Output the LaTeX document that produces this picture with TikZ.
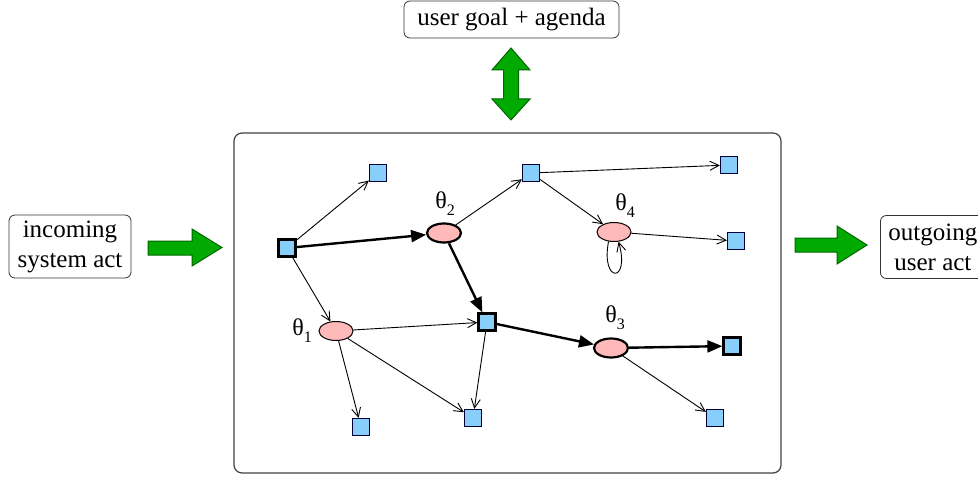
\documentclass[tikz,border=0pt]{standalone}
\usepackage{fontspec}
\setmainfont{Liberation Serif}
\newfontfamily\timesfam{Liberation Serif}
\usetikzlibrary{arrows.meta,shapes.geometric}
\definecolor{sqblue}{RGB}{135,206,250}
\definecolor{elpink}{RGB}{255,185,185}
\definecolor{fatgreen}{RGB}{0,170,0}
\newcommand{\thsub}[1]{θ\raisebox{-3.5pt}{\fontsize{8}{8}\selectfont #1}}

\begin{document}
\begin{tikzpicture}[x=0.5pt, y=-0.5pt,
	sq/.style={rectangle, draw=black!80!blue, fill=sqblue, line width=0.6pt, minimum size=8.5pt, inner sep=0pt},
	sqbold/.style={sq, draw=black, line width=1.1pt},
	el/.style={ellipse, draw=black, fill=elpink, line width=0.5pt, minimum width=17pt, minimum height=9.5pt, inner sep=0pt},
	elbold/.style={el, line width=1.1pt},
	thinarr/.style={-{Straight Barb[length=4.5pt,width=4.5pt]}, line width=0.45pt},
	boldarr/.style={-{Triangle[length=7.5pt,width=6pt]}, line width=1.2pt},
	txtbox/.style={draw=black!80, rounded corners=3pt, align=center, inner sep=0pt, font=\timesfam\fontsize{12.5}{15}\selectfont},
	fatarrow/.style={fill=fatgreen, draw=black!60!green, line width=0.5pt},
	thlabel/.style={inner sep=0pt, anchor=base west, font=\timesfam\fontsize{12}{12}\selectfont}]
	\useasboundingbox (0,0) rectangle (978,476);
	% outer boxes
	\node[txtbox, minimum width=107.5pt, minimum height=18.5pt] (goal) at (511.5,19.5) {user goal + agenda};
	\node[txtbox, minimum width=61pt, minimum height=31.5pt] (inact) at (70,246.5) {incoming\\system act};
	\node[txtbox, minimum width=52.5pt, minimum height=31.5pt, anchor=west] (outact) at (880,247) {outgoing\\user act};
	\draw[draw=black!75, line width=0.6pt, rounded corners=4pt] (234,133) rectangle (781,473);
	% fat arrows
	\draw[fatarrow] (148,241) -- (192,241) -- (192,229) -- (222,247.5) -- (192,266) -- (192,255) -- (148,255) -- cycle;
	\draw[fatarrow] (795,238) -- (837,238) -- (837,226) -- (867,245) -- (837,264) -- (837,252) -- (795,252) -- cycle;
	\draw[fatarrow] (503.5,70) -- (492,70) -- (511,48) -- (530,70) -- (518.5,70) -- (518.5,99) -- (530,99) -- (511,120) -- (492,99) -- (503.5,99) -- cycle;
	% graph
	\node[sqbold] (s0) at (287,248) {};
	\node[sq] (sa) at (378,173) {};
	\node[elbold] (t2) at (444,233) {};
	\node[sq] (sb) at (531,173) {};
	\node[sq] (sc) at (729,165) {};
	\node[el] (t4) at (614,232) {};
	\node[sq] (sd) at (736,241) {};
	\node[el] (t1) at (336,331) {};
	\node[sqbold] (s2) at (487,322) {};
	\node[elbold] (t3) at (611,348) {};
	\node[sqbold] (se) at (732,346) {};
	\node[sq] (sf) at (715,418) {};
	\node[sq] (sg) at (361,427) {};
	\node[sq] (sh) at (473,418) {};
	\node[thlabel] (l2) at (435,208) {\thsub{2}};
	\node[thlabel] (l4) at (615,210) {\thsub{4}};
	\node[thlabel] (l3) at (605,322) {\thsub{3}};
	\node[thlabel] (l1) at (292,335) {\thsub{1}};
	\draw[thinarr] (s0) -- (sa);
	\draw[boldarr] (s0) -- (t2);
	\draw[thinarr] (s0) -- (t1);
	\draw[thinarr] (t2) -- (sb);
	\draw[boldarr] (t2) -- (s2);
	\draw[thinarr] (sb) -- (sc);
	\draw[thinarr] (sb) -- (t4);
	\draw[thinarr] (t4) -- (sd);
	\draw[thinarr] (t4.240) .. controls +(-8,42) and +(12,42) .. (t4.295);
	\draw[thinarr] (t1) -- (s2);
	\draw[thinarr] (t1) -- (sg);
	\draw[thinarr] (t1) -- (sh);
	\draw[thinarr] (s2) -- (sh);
	\draw[boldarr] (s2) -- (t3);
	\draw[boldarr] (t3) -- (se);
	\draw[thinarr] (t3) -- (sf);
\end{tikzpicture}
\end{document}
